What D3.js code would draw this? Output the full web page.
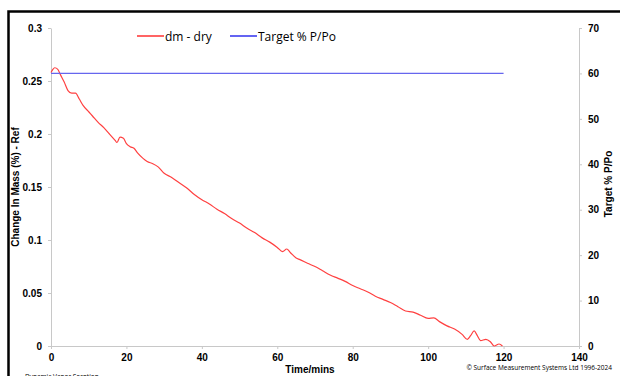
<!DOCTYPE html>
<html>
<head>
<meta charset="utf-8">
<script src="https://cdnjs.cloudflare.com/ajax/libs/d3/7.8.5/d3.min.js"></script>
<style>
  body { margin: 0; background: #fff; }
  svg { display: block; font-family: "Liberation Sans", Arial, sans-serif; }
  .tick text { font-weight: bold; font-size: 10px; fill: #000; }
  .domain, .tick line { stroke: #c8c8c8; }
</style>
</head>
<body>
<div id="chart"></div>
<script>
// time in minutes and dm - dry change in mass (%)
const timeMins = [0, 0.5, 1, 1.8, 2.5, 3.5, 4.5, 5.5, 6.5, 7.5, 8.5, 10, 11, 12.5, 14, 15.5, 17, 17.5, 18.3, 19.2,
  20, 21, 22, 23, 24.4, 25.5, 27, 28.4, 30, 32, 34, 36, 38, 40, 42, 44, 46, 48, 50, 52, 54, 56, 58, 60,
  61.4, 62.5, 63.5, 65, 66, 68, 70, 72, 74, 76, 78, 80, 82, 84, 86, 88, 90, 92, 94, 96, 98, 100,
  101.5, 103, 105, 107, 109, 110.4, 111.3, 112.2, 113, 113.9, 115.3, 116.5, 117.5, 118.8, 119.7];
const dmDry = [0.258, 0.261, 0.2625, 0.261, 0.256, 0.249, 0.241, 0.2385, 0.2385, 0.233, 0.227, 0.221, 0.217, 0.211, 0.206, 0.200, 0.194, 0.192, 0.197, 0.196,
  0.191, 0.188, 0.1865, 0.182, 0.177, 0.174, 0.172, 0.169, 0.163, 0.159, 0.154, 0.149, 0.143, 0.138, 0.134, 0.129, 0.125, 0.120, 0.116, 0.111, 0.107, 0.102, 0.098, 0.093,
  0.089, 0.0915, 0.088, 0.083, 0.0815, 0.078, 0.075, 0.071, 0.067, 0.064, 0.061, 0.057, 0.054, 0.051, 0.047, 0.044, 0.041, 0.037, 0.033, 0.032, 0.029, 0.026,
  0.0265, 0.023, 0.019, 0.016, 0.011, 0.0063, 0.010, 0.0142, 0.010, 0.005, 0.0063, 0.004, 0.0, 0.0019, 0.0];

// target % P/Po
const targetTime = [0, 120];
const targetPPo = [60, 60];

const xTicks = [0, 20, 40, 60, 80, 100, 120, 140];
const yLeftTicks = [0, 0.05, 0.1, 0.15, 0.2, 0.25, 0.3];
const yRightTicks = [0, 10, 20, 30, 40, 50, 60, 70];

const width = 620, height = 376;
const margin = { top: 28, right: 41, bottom: 30, left: 51 };

const svg = d3.select("#chart").append("svg")
  .attr("width", width)
  .attr("height", height);

// outer frame
svg.append("rect")
  .attr("x", 8.5).attr("y", 11.5)
  .attr("width", 640).attr("height", 400)
  .attr("fill", "none").attr("stroke", "#000").attr("stroke-width", 2.5);

const x = d3.scaleLinear().domain([0, 140]).range([margin.left, width - margin.right]);
const yL = d3.scaleLinear().domain([0, 0.3]).range([height - margin.bottom, margin.top]);
const yR = d3.scaleLinear().domain([0, 70]).range([height - margin.bottom, margin.top]);

svg.append("g")
  .attr("transform", `translate(0,${height - margin.bottom})`)
  .call(d3.axisBottom(x).tickValues(xTicks).tickSize(3).tickSizeOuter(0).tickPadding(5));

svg.append("g")
  .attr("transform", `translate(${margin.left},0)`)
  .call(d3.axisLeft(yL).tickValues(yLeftTicks).tickFormat(d => d === 0 ? "0" : String(+d.toFixed(2))).tickSize(3).tickSizeOuter(0).tickPadding(6));

svg.append("g")
  .attr("transform", `translate(${width - margin.right},0)`)
  .call(d3.axisRight(yR).tickValues(yRightTicks).tickSize(3).tickSizeOuter(0).tickPadding(6));

// series
const dmLine = d3.line()
  .x((d, i) => x(timeMins[i]))
  .y(d => yL(d))
  .curve(d3.curveMonotoneX);

svg.append("path")
  .datum(dmDry)
  .attr("fill", "none")
  .attr("stroke", "#ff4040")
  .attr("stroke-width", 1.2)
  .attr("d", dmLine);

const targetLine = d3.line()
  .x((d, i) => x(targetTime[i]))
  .y(d => yR(d));

svg.append("path")
  .datum(targetPPo)
  .attr("fill", "none")
  .attr("stroke", "#6666ee")
  .attr("stroke-width", 1.2)
  .attr("d", targetLine);

// axis titles
svg.append("text")
  .attr("x", 310).attr("y", 373)
  .attr("text-anchor", "middle")
  .style("font-weight", "bold").style("font-size", "10px")
  .text("Time/mins");

svg.append("text")
  .attr("transform", "translate(19,187) rotate(-90)")
  .attr("text-anchor", "middle")
  .style("font-weight", "bold").style("font-size", "10px")
  .text("Change In Mass (%) - Ref");

svg.append("text")
  .attr("transform", "translate(612,184) rotate(-90)")
  .attr("text-anchor", "middle")
  .style("font-weight", "bold").style("font-size", "10px")
  .text("Target % P/Po");

// legend
const legend = [
  { name: "dm - dry", color: "#ff3030", x: 137 },
  { name: "Target % P/Po", color: "#3030ee", x: 230 }
];
legend.forEach(l => {
  svg.append("line")
    .attr("x1", l.x).attr("x2", l.x + 27)
    .attr("y1", 36).attr("y2", 36)
    .attr("stroke", l.color).attr("stroke-width", 1.5);
  svg.append("text")
    .attr("x", l.x + 28).attr("y", 40.5)
    .style("font-family", "'Open Sans', sans-serif").style("font-size", "12px")
    .text(l.name);
});

// footnotes
svg.append("text")
  .attr("x", 612).attr("y", 370)
  .attr("text-anchor", "end")
  .style("font-family", "'Open Sans', sans-serif").style("font-size", "6.5px")
  .text("© Surface Measurement Systems Ltd 1996-2024");

svg.append("text")
  .attr("x", 25).attr("y", 379)
  .style("font-family", "'Open Sans', sans-serif").style("font-size", "6.5px")
  .text("Dynamic Vapor Sorption");
</script>
</body>
</html>
